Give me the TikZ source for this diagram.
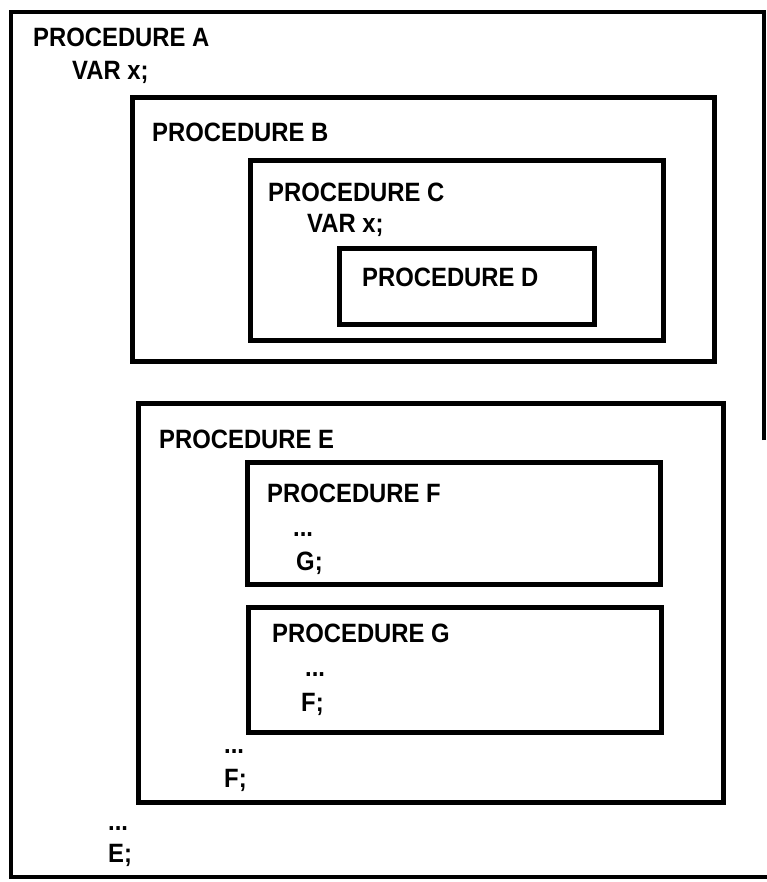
\documentclass[tikz,border=0pt]{standalone}
\usepackage{fontspec}
\setmainfont{Liberation Sans}[FakeStretch=0.9]
\usetikzlibrary{positioning}

\tikzset{
    procbox/.style={draw=black, line width=5pt, line join=miter},
    codetext/.style={anchor=base west, inner sep=0pt, font=\fontsize{26.5}{30}\selectfont\bfseries}
}

\begin{document}
\begin{tikzpicture}[x=1pt, y=-1pt]
\useasboundingbox (0,0) rectangle (767,882);

% === Procedimiento A (marco exterior) ===
\draw[line width=4pt, line join=miter] (764,440) -- (764,12) -- (11,12) -- (11,877) -- (767,877);
\node[codetext] (procA) at (33,47) {PROCEDURE A};
\node[codetext] (varA) at (72,80) {VAR x;};

% === Procedimiento B con C y D ===
\draw[procbox] (132,98) rectangle (714,361);
\node[codetext] (procB) at (152,142) {PROCEDURE B};

\draw[procbox] (250,161) rectangle (663,340);
\node[codetext] (procC) at (268,202) {PROCEDURE C};
\node[codetext] (varC) at (307,233) {VAR x;};

\draw[procbox] (339,249) rectangle (594,324);
\node[codetext] (procD) at (362,287) {PROCEDURE D};

% === Procedimiento E con F y G ===
\draw[procbox] (138,403) rectangle (723,802);
\node[codetext] (procE) at (159,448) {PROCEDURE E};

\draw[procbox] (247,462) rectangle (660,584);
\node[codetext] (procF) at (267,502) {PROCEDURE F};
\node[codetext] (dotsF) at (293,536) {...};
\node[codetext] (callG) at (296,570) {G;};

\draw[procbox] (248,607) rectangle (661,732);
\node[codetext] (procG) at (272,642) {PROCEDURE G};
\node[codetext] (dotsG) at (305,676) {...};
\node[codetext] (callFG) at (301,711) {F;};

\node[codetext] (dotsE) at (224,753) {...};
\node[codetext] (callFE) at (224,787) {F;};

% Cuerpo de A
\node[codetext] (dotsA) at (108,830) {...};
\node[codetext] (callE) at (108,862) {E;};

\end{tikzpicture}
\end{document}
